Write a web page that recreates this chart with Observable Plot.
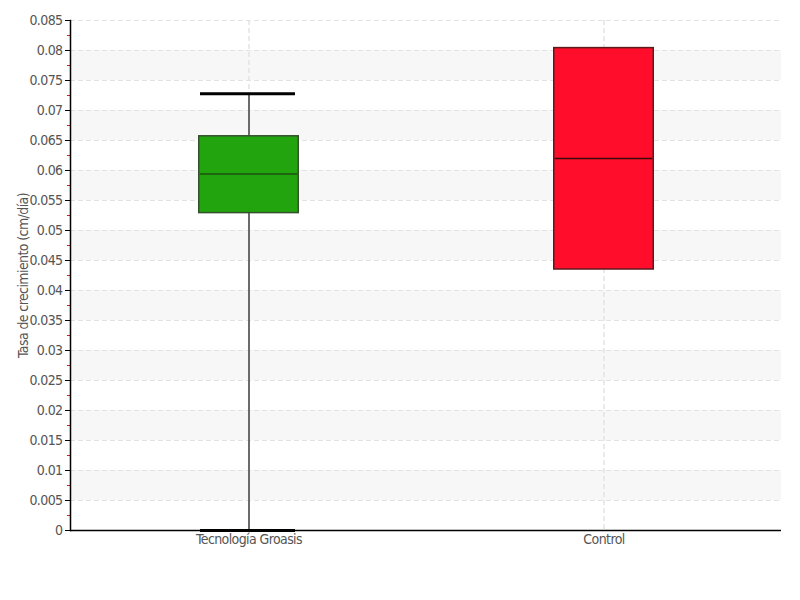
<!DOCTYPE html>
<html>
<head>
<meta charset="utf-8">
<script src="https://cdn.jsdelivr.net/npm/d3@7"></script>
<script src="https://cdn.jsdelivr.net/npm/@observablehq/plot@0.6"></script>
<style>
  body { margin: 0; background: #fff; }
  #chart svg { font-family: "Liberation Sans Narrow", "DejaVu Sans Condensed", "Roboto", sans-serif; font-stretch: condensed; }
  #chart svg text { letter-spacing: -0.6px; }
</style>
</head>
<body>
<div id="chart"></div>
<script>
// ---- data ----
const categories = ["Tecnología Groasis", "Control"];
const whiskerLow = [0.0, 0.0435];
const q1 = [0.0529, 0.0435];
const median = [0.0594, 0.0620];
const q3 = [0.0657, 0.0804];
const whiskerHigh = [0.0728, 0.0804];
const fills = ["#22a40e", "#ff0d2a"];
const strokes = ["#34502c", "#5c1a1f"];
const medianColors = ["#1d5210", "#3a0a0a"];
const yTicks = [0, 0.005, 0.01, 0.015, 0.02, 0.025, 0.03, 0.035, 0.04, 0.045, 0.05, 0.055, 0.06, 0.065, 0.07, 0.075, 0.08, 0.085];
const yMinorTicks = [0.0025, 0.0075, 0.0125, 0.0175, 0.0225, 0.0275, 0.0325, 0.0375, 0.0425, 0.0475, 0.0525, 0.0575, 0.0625, 0.0675, 0.0725, 0.0775, 0.0825];
const yLabel = "Tasa de crecimiento (cm/día)";

const rows = categories.map((c, i) => ({
  cat: c, lo: whiskerLow[i], q1: q1[i], med: median[i], q3: q3[i], hi: whiskerHigh[i],
  fill: fills[i], stroke: strokes[i], mc: medianColors[i]
}));
const caps = [];
rows.forEach(r => {
  if (r.hi > r.q3) caps.push({cat: r.cat, y: r.hi});
  if (r.lo < r.q1) caps.push({cat: r.cat, y: r.lo});
});
const bands = [];
for (let i = 1; i + 1 < yTicks.length; i += 2) bands.push({y1: yTicks[i], y2: yTicks[i + 1]});

const boxInset = 127.75;
const capInset = 129;

const chart = Plot.plot({
  width: 800,
  height: 600,
  marginLeft: 70,
  marginRight: 19,
  marginTop: 20,
  marginBottom: 70,
  x: {type: "band", domain: categories, padding: 0, axis: null},
  y: {domain: [0, 0.085], axis: null},
  marks: [
    Plot.rect(bands, {y1: "y1", y2: "y2", fill: "#f7f7f7"}),
    Plot.ruleY(yTicks, {stroke: "#e3e3e3", strokeDasharray: "5,3"}),
    Plot.ruleX(categories, {x: d => d, stroke: "#e3e3e3", strokeDasharray: "5,3", strokeWidth: 1.5}),
    Plot.ruleX(rows, {x: "cat", y1: "lo", y2: "hi", stroke: "#6b6b6b", strokeWidth: 2}),
    Plot.barY(rows, {x: "cat", y1: "q1", y2: "q3", fill: "fill", stroke: "stroke", strokeWidth: 1.5, insetLeft: boxInset, insetRight: boxInset}),
    Plot.tickY(rows, {x: "cat", y: "med", stroke: "mc", strokeWidth: 1.5, insetLeft: boxInset + 1, insetRight: boxInset + 1}),
    Plot.tickY(caps, {x: "cat", y: "y", stroke: "#000", strokeWidth: 3, insetLeft: capInset, insetRight: capInset + 2}),
    Plot.axisY(yMinorTicks, {tickSize: 3, stroke: "#d42020", tickFormat: () => ""}),
    Plot.axisY(yTicks, {
      tickSize: 5, stroke: "#000", fill: "#555", fontSize: 14, tickPadding: 3,
      tickFormat: d => String(+d.toFixed(4)),
      label: yLabel, labelAnchor: "center", labelOffset: 52, labelArrow: "none"
    }),
    Plot.axisX({tickSize: 0, fill: "#555", fontSize: 14, tickPadding: 4, label: null}),
    Plot.ruleY([0], {stroke: "#000", strokeWidth: 1.5}),
    Plot.frame({anchor: "left", stroke: "#000", strokeWidth: 1.5})
  ]
});
document.getElementById("chart").appendChild(chart);
</script>
</body>
</html>
